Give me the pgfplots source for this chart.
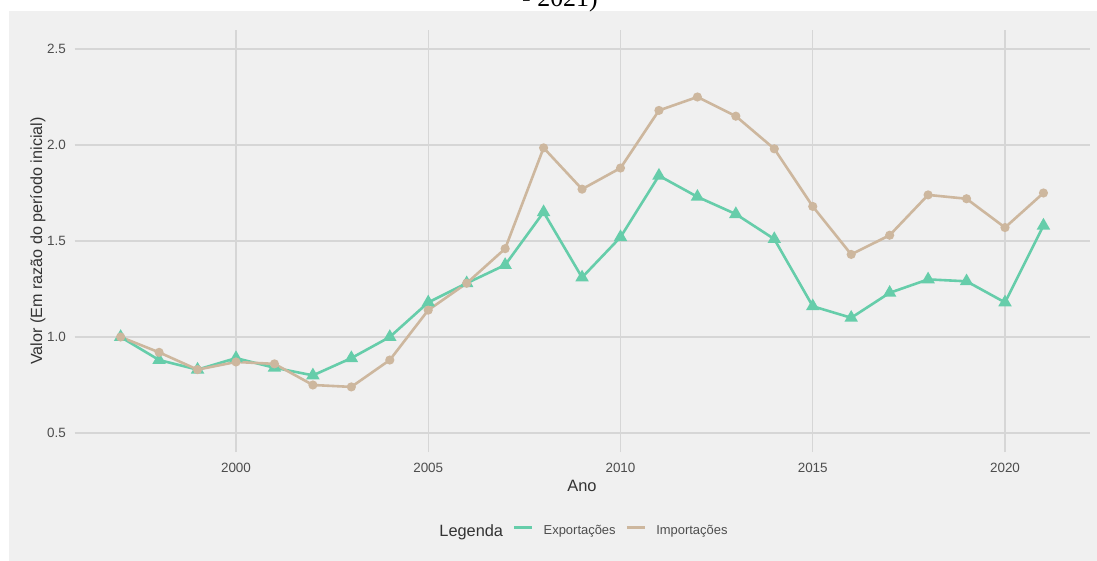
\documentclass[border=0pt]{standalone}
\usepackage{pgfplots}
\pgfplotsset{compat=1.18}
\usepackage{fontspec}
\setmainfont{Liberation Sans}
\newfontfamily\seriffont{Liberation Serif}
\definecolor{bgpanel}{RGB}{240,240,240}
\definecolor{gridc}{RGB}{214,214,214}
\definecolor{expc}{RGB}{102,205,170}
\definecolor{impc}{RGB}{205,183,158}
\definecolor{tickc}{RGB}{77,77,77}
\definecolor{titc}{RGB}{51,51,51}

\pgfplotstableread{
ano exp
1997 1.00
1998 0.88
1999 0.83
2000 0.89
2001 0.84
2002 0.80
2003 0.89
2004 1.00
2005 1.18
2006 1.28
2007 1.375
2008 1.65
2009 1.31
2010 1.52
2011 1.84
2012 1.73
2013 1.64
2014 1.51
2015 1.16
2016 1.10
2017 1.23
2018 1.30
2019 1.29
2020 1.18
2021 1.58
}\exptab

\pgfplotstableread{
ano imp
1997 1.00
1998 0.92
1999 0.83
2000 0.87
2001 0.86
2002 0.75
2003 0.74
2004 0.88
2005 1.14
2006 1.28
2007 1.46
2008 1.985
2009 1.77
2010 1.88
2011 2.18
2012 2.25
2013 2.15
2014 1.98
2015 1.68
2016 1.43
2017 1.53
2018 1.74
2019 1.72
2020 1.57
2021 1.75
}\imptab

\begin{document}
\begin{tikzpicture}[x=1bp,y=1bp]
\useasboundingbox (0,0) rectangle (1097,561);
\fill[bgpanel] (9,0) rectangle (1097,550);
\node[font=\seriffont\fontsize{26}{30}\selectfont, anchor=base] at (560,554) {- 2021)};
\begin{axis}[
  at={(74.5bp,108.8bp)}, anchor=south west,
  scale only axis, width=1015.1bp, height=422.4bp,
  xmin=1995.8, xmax=2022.2, ymin=0.4, ymax=2.6,
  axis line style={draw=none},
  /pgf/number format/assume math mode=true,
  xtick={2000,2005,2010,2015,2020},
  ytick={0.5,1.0,1.5,2.0,2.5},
  yticklabels={0.5,1.0,1.5,2.0,2.5},
  xticklabels={2000,2005,2010,2015,2020},
  grid=major,
  major grid style={gridc, line width=1.2bp},
  tick style={draw=none},
  yticklabel style={font=\fontsize{13.5}{15}\selectfont, text=tickc, inner sep=0pt, anchor=east, xshift=-8.5bp},
  xticklabel style={font=\fontsize{13.5}{15}\selectfont, text=tickc, inner sep=0pt, anchor=north, yshift=-10.5bp},
  legend columns=3,
  legend style={at={(0.4965,-0.1866)}, anchor=center, draw=none, fill=none,
    nodes={inner sep=0pt, text=tickc, font=\fontsize{13}{15}\selectfont},
    /tikz/every odd column/.append style={column sep=10bp},
    /tikz/every even column/.append style={column sep=10bp}},
  legend image code/.code={\draw[#1, mark=none] (0bp,3.8bp) -- (18bp,3.8bp);},
]
\addlegendimage{empty legend}
\addlegendentry{\fontsize{16.4}{18}\selectfont\color{titc}Legenda\hspace{-10bp}}
\addplot[expc, line width=2.6bp, mark=triangle*, mark size=5.2bp, mark options={solid}] table[x=ano,y=exp] {\exptab};
\addlegendentry{Exportações}
\addplot[impc, line width=2.6bp, mark=*, mark size=3.2bp, mark options={solid}] table[x=ano,y=imp] {\imptab};
\addlegendentry{Importações}
\end{axis}
\node[font=\fontsize{16.5}{19}\selectfont, text=titc, anchor=base] at (582,69) {Ano};
\node[font=\fontsize{16.2}{19}\selectfont, text=titc, anchor=base, rotate=90] at (42,320) {Valor (Em razão do período inicial)};
\end{tikzpicture}
\end{document}
